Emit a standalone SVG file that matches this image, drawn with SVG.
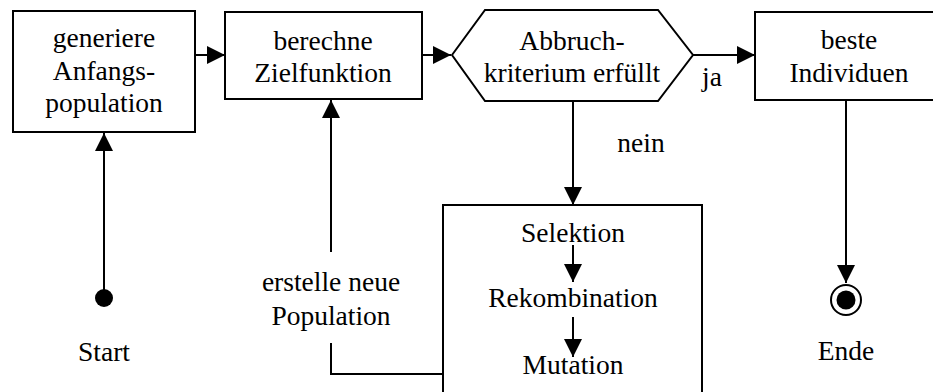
<svg xmlns="http://www.w3.org/2000/svg" width="933" height="392" viewBox="0 0 933 392">
<defs>
<marker id="ah" viewBox="0 0 18 18" refX="18" refY="9" markerWidth="18" markerHeight="18" markerUnits="userSpaceOnUse" orient="auto">
<path d="M0,0 L18,9 L0,18 Z" fill="#000"/>
</marker>
</defs>
<rect width="933" height="392" fill="#fff"/>
<g id="connectors" fill="none" stroke="#000" stroke-width="2">
<line x1="195" y1="55" x2="225" y2="55" marker-end="url(#ah)"/>
<line x1="422" y1="55" x2="451" y2="55" marker-end="url(#ah)"/>
<line x1="693" y1="55" x2="755" y2="55" marker-end="url(#ah)"/>
<line x1="573" y1="101" x2="573" y2="205" marker-end="url(#ah)"/>
<line x1="846" y1="100" x2="846" y2="283" marker-end="url(#ah)"/>
<line x1="104" y1="298" x2="104" y2="133" marker-end="url(#ah)"/>
<line x1="331" y1="252" x2="331" y2="100" marker-end="url(#ah)"/>
<polyline points="331,343 331,374 443,374"/>
</g>
<g id="labels" text-anchor="middle" fill="#000">
<text x="712" y="86" style="font-family:'Times New Roman','Liberation Serif',serif;font-size:27.5px">ja</text>
<text x="641" y="152" style="font-family:'Times New Roman','Liberation Serif',serif;font-size:27.5px">nein</text>
<text x="331" y="291" style="font-family:'Times New Roman','Liberation Serif',serif;font-size:27.5px">erstelle neue</text>
<text x="331" y="325" style="font-family:'Times New Roman','Liberation Serif',serif;font-size:27.5px">Population</text>
</g>
<g id="start">
<circle cx="104" cy="298" r="9" fill="#000"/>
<text x="104" y="361" text-anchor="middle" style="font-family:'Times New Roman','Liberation Serif',serif;font-size:27.5px">Start</text>
</g>
<g id="generiere" text-anchor="middle">
<rect x="13" y="11" width="182" height="121" fill="#fff" stroke="#000" stroke-width="2"/>
<text x="104" y="47" style="font-family:'Times New Roman','Liberation Serif',serif;font-size:27.5px">generiere</text>
<text x="104" y="80" style="font-family:'Times New Roman','Liberation Serif',serif;font-size:27.5px">Anfangs-</text>
<text x="104" y="112" style="font-family:'Times New Roman','Liberation Serif',serif;font-size:27.5px">population</text>
</g>
<g id="berechne" text-anchor="middle">
<rect x="225" y="12" width="197" height="87" fill="#fff" stroke="#000" stroke-width="2"/>
<text x="323" y="50" style="font-family:'Times New Roman','Liberation Serif',serif;font-size:27.5px">berechne</text>
<text x="323" y="82" style="font-family:'Times New Roman','Liberation Serif',serif;font-size:27.5px">Zielfunktion</text>
</g>
<g id="abbruch" text-anchor="middle">
<polygon points="452,55 485,10 658,10 693,55 658,101 485,101" fill="#fff" stroke="#000" stroke-width="2"/>
<text x="572" y="50" style="font-family:'Times New Roman','Liberation Serif',serif;font-size:27.5px">Abbruch-</text>
<text x="572" y="82" style="font-family:'Times New Roman','Liberation Serif',serif;font-size:27.5px">kriterium erfüllt</text>
</g>
<g id="beste" text-anchor="middle">
<rect x="755" y="12" width="200" height="88" fill="#fff" stroke="#000" stroke-width="2"/>
<text x="849" y="49" style="font-family:'Times New Roman','Liberation Serif',serif;font-size:27.5px">beste</text>
<text x="849" y="82" style="font-family:'Times New Roman','Liberation Serif',serif;font-size:27.5px">Individuen</text>
</g>
<g id="operatoren" text-anchor="middle">
<rect x="443" y="205" width="259" height="195" fill="#fff" stroke="#000" stroke-width="2"/>
<line x1="573" y1="245" x2="573" y2="282" stroke="#000" stroke-width="2" marker-end="url(#ah)"/>
<line x1="573" y1="317" x2="573" y2="357" stroke="#000" stroke-width="2" marker-end="url(#ah)"/>
<text x="573" y="242" style="font-family:'Times New Roman','Liberation Serif',serif;font-size:27.5px">Selektion</text>
<text x="573" y="307" style="font-family:'Times New Roman','Liberation Serif',serif;font-size:27.5px">Rekombination</text>
<text x="573" y="374" style="font-family:'Times New Roman','Liberation Serif',serif;font-size:27.5px">Mutation</text>
</g>
<g id="ende">
<circle cx="846" cy="300" r="15" fill="#fff" stroke="#000" stroke-width="2"/>
<circle cx="846" cy="300" r="9.5" fill="#000"/>
<text x="846" y="360" text-anchor="middle" style="font-family:'Times New Roman','Liberation Serif',serif;font-size:27.5px">Ende</text>
</g>
</svg>
